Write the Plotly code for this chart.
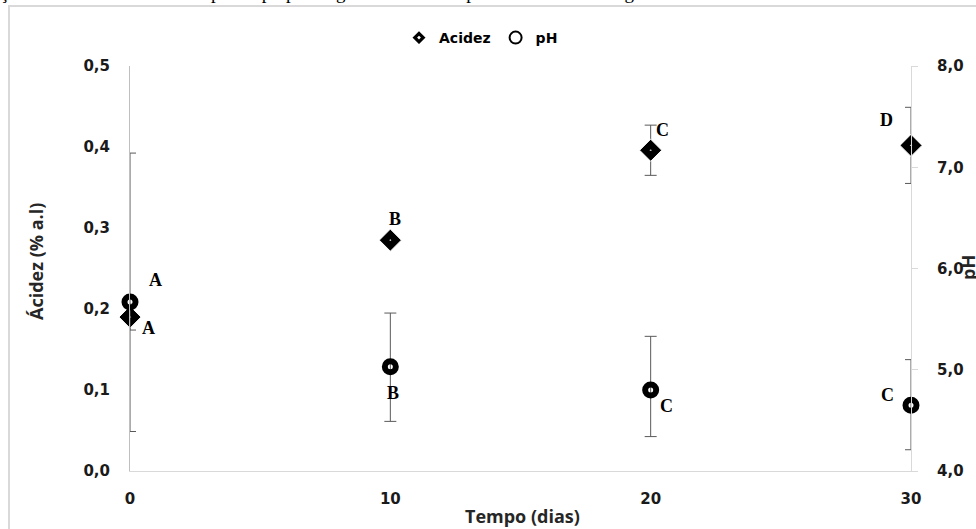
import plotly.graph_objects as go

# ---- data ----
dias = [0, 10, 20, 30]
acidez = [0.190, 0.285, 0.396, 0.402]
acidez_err_plus = [0.016, 0.004, 0.031, 0.047]
acidez_err_minus = [0.016, 0.004, 0.031, 0.047]
ph = [5.67, 5.03, 4.80, 4.65]
ph_err_plus = [1.47, 0.53, 0.53, 0.45]
ph_err_minus = [1.28, 0.54, 0.46, 0.44]
letras_acidez = ["A", "B", "C", "D"]
letras_ph = ["A", "B", "C", "C"]
x_ticks = [0, 10, 20, 30]
y_ticks = [0.0, 0.1, 0.2, 0.3, 0.4, 0.5]
y_ticklabels = ["0,0", "0,1", "0,2", "0,3", "0,4", "0,5"]
y2_ticks = [4, 5, 6, 7, 8]
y2_ticklabels = ["4,0", "5,0", "6,0", "7,0", "8,0"]

# ---- style ----
W, H = 976, 529
L, R, T, B = 130, 65, 66, 58
pw, ph_px = W - L - R, H - T - B
sans = "DejaVu Sans"
serif = "Liberation Serif"
err_col = "#595959"

fig = go.Figure()
fig.add_trace(go.Scatter(
    x=dias, y=acidez, name="Acidez", mode="markers",
    marker=dict(symbol="diamond-dot", size=17, color="black",
                line=dict(color="white", width=1)),
    error_y=dict(type="data", symmetric=False, array=acidez_err_plus,
                 arrayminus=acidez_err_minus, color=err_col, thickness=1, width=6),
    cliponaxis=False, yaxis="y"))
fig.add_trace(go.Scatter(
    x=dias, y=ph, name="pH", mode="markers",
    marker=dict(symbol="circle-open", size=11, color="black",
                line=dict(color="black", width=6)),
    error_y=dict(type="data", symmetric=False, array=ph_err_plus,
                 arrayminus=ph_err_minus, color=err_col, thickness=1, width=6),
    cliponaxis=False, yaxis="y2"))

# letter labels (pixel offsets from each point)
off_acidez = [(18, -11), (5, 21), (12, 20), (-25, 25)]
off_ph = [(25, 22), (3, -26), (16, -16), (-24, 10)]
for i, d in enumerate(dias):
    fig.add_annotation(x=d, y=acidez[i], xref="x", yref="y", text=letras_acidez[i],
                       showarrow=False, xshift=off_acidez[i][0], yshift=off_acidez[i][1],
                       font=dict(family=serif, size=18, color="black", weight="bold"))
    fig.add_annotation(x=d, y=ph[i], xref="x", yref="y2", text=letras_ph[i],
                       showarrow=False, xshift=off_ph[i][0], yshift=off_ph[i][1],
                       font=dict(family=serif, size=18, color="black", weight="bold"))

def px_x(p):
    return (p - L) / pw

def px_y(p):
    return (H - B - p) / ph_px

# axis titles
fig.add_annotation(x=px_x(36), y=px_y(262), xref="paper", yref="paper",
                   xanchor="center", yanchor="middle",
                   text="Ácidez (% a.l)", textangle=-90, showarrow=False,
                   font=dict(family="Open Sans", size=18, color="#262626", weight="bold"))
fig.add_annotation(x=px_x(968), y=px_y(268), xref="paper", yref="paper",
                   xanchor="center", yanchor="middle",
                   text="pH", textangle=-90, showarrow=False,
                   font=dict(family="Open Sans", size=18, color="#262626", weight="bold"))
fig.add_annotation(x=px_x(522), y=px_y(516), xref="paper", yref="paper",
                   xanchor="center", yanchor="middle",
                   text="Tempo (dias)", showarrow=False,
                   font=dict(family="Open Sans", size=18, color="#262626", weight="bold"))

# partially visible caption at top
fig.add_annotation(x=px_x(-2), y=px_y(5), xref="paper", yref="paper", xanchor="left",
                   yanchor="bottom",
                   text="ção da acidez titulável e do pH da polpa congelada durante o período de armazenagem",
                   showarrow=False, font=dict(family=serif, size=19, color="black"))

# outer frame
fig.add_shape(type="rect", xref="paper", yref="paper",
              x0=px_x(9), x1=px_x(990), y0=px_y(540), y1=px_y(6),
              line=dict(color="#d9d9d9", width=2), layer="below")

tickfont = dict(family=sans, size=15, color="#1a1a1a", weight="bold")
fig.update_layout(
    width=W, height=H, margin=dict(l=L, r=R, t=T, b=B),
    paper_bgcolor="white", plot_bgcolor="white",
    showlegend=True,
    legend=dict(orientation="h", x=px_x(399), y=px_y(38), xanchor="left", yanchor="middle",
                font=dict(family=sans, size=14, color="black", weight="bold"),
                bgcolor="rgba(0,0,0,0)", itemsizing="constant", itemwidth=30),
    xaxis=dict(range=[0, 30], tickvals=x_ticks, ticktext=[str(t) for t in x_ticks],
               showgrid=False, zeroline=False, showline=True, linecolor="#d9d9d9",
               linewidth=1, ticks="", tickfont=tickfont, ticklabelstandoff=14),
    yaxis=dict(range=[0, 0.5], tickvals=y_ticks, ticktext=y_ticklabels,
               showgrid=False, zeroline=False, showline=True, linecolor="#bfbfbf",
               linewidth=1, ticks="", tickfont=tickfont, ticklabelstandoff=16),
    yaxis2=dict(range=[4, 8], tickvals=y2_ticks, ticktext=y2_ticklabels, overlaying="y",
                side="right", showgrid=False, zeroline=False, showline=True,
                linecolor="#d9d9d9", linewidth=1, ticks="outside", ticklen=6,
                tickcolor="#d9d9d9", tickfont=tickfont, ticklabelstandoff=16),
)

fig.write_html("out.html", config={"displayModeBar": False},
               post_script="document.body.style.margin='0';")
